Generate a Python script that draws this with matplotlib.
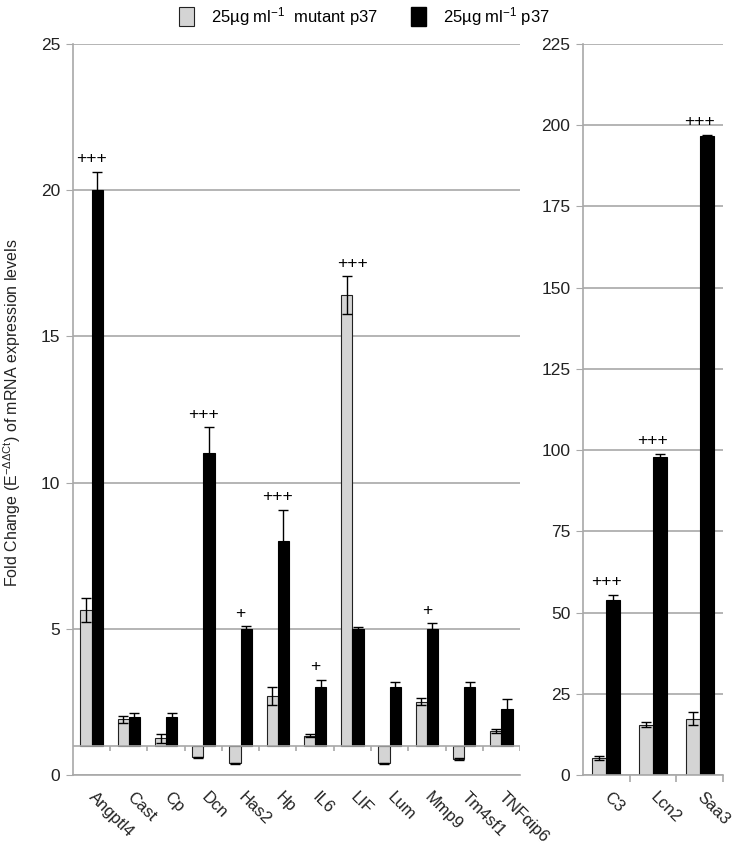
import numpy as np
import matplotlib
matplotlib.use("Agg")
import matplotlib.pyplot as plt
from matplotlib.patches import Patch

plt.rcParams['font.family'] = ['Liberation Sans', 'DejaVu Sans']
plt.rcParams['mathtext.fontset'] = 'custom'
plt.rcParams['mathtext.rm'] = 'Liberation Sans'
plt.rcParams['mathtext.it'] = 'Liberation Sans:italic'

# data - left panel (bars drawn from baseline 1)
genes_left = ["Angptl4", "Cast", "Cp", "Dcn", "Has2", "Hp", "IL6", "LIF",
              "Lum", "Mmp9", "Tm4sf1", "TNFαip6"]
mutant_left = [5.65, 1.9, 1.25, 0.6, 0.4, 2.7, 1.35, 16.4, 0.4, 2.5, 0.55, 1.5]
mutant_left_err = [0.4, 0.12, 0.15, 0.02, 0.01, 0.32, 0.05, 0.65, 0.01, 0.12, 0.03, 0.06]
p37_left = [20.0, 2.0, 2.0, 11.0, 5.0, 8.0, 3.0, 5.0, 3.0, 5.0, 3.0, 2.25]
p37_left_err = [0.63, 0.12, 0.12, 0.9, 0.08, 1.08, 0.25, 0.05, 0.19, 0.19, 0.19, 0.35]
sig_left = ["+++", "", "", "+++", "+", "+++", "+", "+++", "", "+", "", ""]

# data - right panel
genes_right = ["C3", "Lcn2", "Saa3"]
mutant_right = [5.3, 15.5, 17.3]
mutant_right_err = [0.6, 0.8, 2.0]
p37_right = [54.0, 98.0, 196.8]
p37_right_err = [1.5, 0.9, 0.3]
sig_right = ["+++", "+++", "+++"]

gray_fill = '#d4d4d4'
grid_col = '#a8a8a8'
txt_col = '#222222'
w = 0.3

fig = plt.figure(figsize=(7.32, 8.47), dpi=100)
ax1 = fig.add_axes([0.0997, 0.085, 0.6107, 0.863])
ax2 = fig.add_axes([0.7964, 0.085, 0.1913, 0.863])


def style_axis(ax, ymax, step, n):
    ax.set_ylim(0, ymax)
    ax.set_xlim(-0.5, n - 0.5)
    ax.set_yticks(np.arange(0, ymax + step / 2, step))
    ax.yaxis.grid(True, color=grid_col, linewidth=1.2)
    ax.set_axisbelow(True)
    for s in ['top', 'right']:
        ax.spines[s].set_visible(False)
    ax.spines['left'].set_color(grid_col)
    ax.spines['bottom'].set_color(grid_col)
    ax.spines['left'].set_linewidth(1.2)
    ax.spines['bottom'].set_linewidth(1.2)
    ax.tick_params(axis='y', length=5, color=grid_col, labelsize=12.5,
                   labelcolor=txt_col, pad=4)
    ax.tick_params(axis='x', length=0, labelsize=12, labelcolor=txt_col, pad=14)


def draw_bars(ax, genes, mut, mut_err, p37, p37_err, sig, base):
    x = np.arange(len(genes))
    mut_h = np.array(mut) - base
    p37_h = np.array(p37) - base
    ax.bar(x - w / 2, mut_h, w, bottom=base, color=gray_fill,
           edgecolor='#222222', linewidth=0.8)
    ax.bar(x + w / 2, p37_h, w, bottom=base, color='black',
           edgecolor='black', linewidth=0.8)
    ax.errorbar(x - w / 2, mut, yerr=mut_err, fmt='none', ecolor='black',
                elinewidth=1, capsize=3.5, capthick=1)
    ax.errorbar(x + w / 2, p37, yerr=p37_err, fmt='none', ecolor='black',
                elinewidth=1, capsize=3.5, capthick=1)
    tops = np.maximum(np.array(mut) + np.array(mut_err),
                      np.array(p37) + np.array(p37_err))
    for xi, t, s in zip(x, tops, sig):
        if s:
            ax.annotate(s, (xi, t), xytext=(0, 4), textcoords='offset points',
                        ha='center', va='bottom', fontsize=12.5, color='black')
    ax.set_xticks(x)
    ax.set_xticklabels(genes, rotation=-45, ha='left', va='center',
                       rotation_mode='anchor')


style_axis(ax1, 25, 5, len(genes_left))
draw_bars(ax1, genes_left, mutant_left, mutant_left_err, p37_left,
          p37_left_err, sig_left, 1)
# baseline at 1 with category separator ticks
ax1.axhline(1, color=grid_col, linewidth=1.2, zorder=1)
bounds = np.arange(len(genes_left)) + 0.5
ax1.vlines(bounds, 1 - 0.17, 1, color=grid_col, linewidth=1.2)

style_axis(ax2, 225, 25, len(genes_right))
draw_bars(ax2, genes_right, mutant_right, mutant_right_err, p37_right,
          p37_right_err, sig_right, 0)
ax2.set_xticks(np.arange(len(genes_right)) + 0.5, minor=True)
ax2.tick_params(axis='x', which='minor', length=5, color=grid_col, width=1.2)

fig.text(0.016, 0.513,
         "Fold Change (E$^{\\mathrm{-ΔΔCt}}$) of mRNA expression levels",
         rotation=90, ha='center', va='center', fontsize=11.5, color=txt_col)

handles = [Patch(facecolor=gray_fill, edgecolor='#222222', linewidth=0.8),
           Patch(facecolor='black', edgecolor='black')]
labels = ["25µg ml$^{-1}$  mutant p37", "25µg ml$^{-1}$ p37"]
fig.legend(handles, labels, loc='center', bbox_to_anchor=(0.498, 0.981),
           ncol=2, frameon=False, fontsize=12, handlelength=0.9,
           handleheight=1.4, columnspacing=2.0, handletextpad=1.0)

fig.savefig("out.png", dpi=100)
